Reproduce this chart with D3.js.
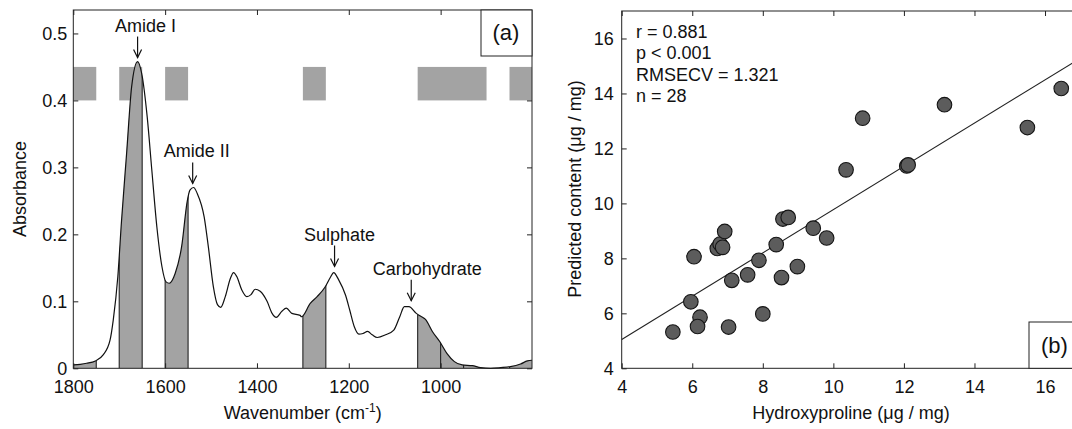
<!DOCTYPE html>
<html>
<head>
<meta charset="utf-8">
<script src="https://cdn.jsdelivr.net/npm/d3@7"></script>
<style>
  body { margin: 0; background: #fff; }
  svg { display: block; font-family: "Liberation Sans", Arial, sans-serif; }
  .frame { fill: none; stroke: #222; stroke-width: 1; }
  .spectrum { fill: none; stroke: #111; stroke-width: 1.2px; }
</style>
</head>
<body>
<svg id="chart" width="1072" height="429"></svg>
<script>
// ---- panel (a): FTIR spectrum ----
const wavenumber = [1800, 1785, 1771, 1752, 1735, 1720, 1713, 1703, 1695, 1684, 1673, 1660, 1651, 1639,
  1629, 1618, 1607, 1598, 1591, 1578, 1564, 1552, 1546, 1538, 1530, 1515, 1506, 1495, 1486, 1479,
  1469, 1458, 1451, 1444, 1433, 1422, 1413, 1404, 1393, 1378, 1367, 1358, 1346, 1336, 1324, 1306,
  1303, 1284, 1269, 1252, 1240, 1233, 1222, 1207, 1198, 1188, 1178, 1169, 1159, 1149, 1138, 1120,
  1102, 1089, 1079, 1069, 1053, 1044, 1033, 1018, 1002, 986, 970, 953, 931, 913, 891, 869, 848,
  826, 811, 801];
const absorbance = [0.005, 0.006, 0.0075, 0.011, 0.02, 0.042, 0.072, 0.137, 0.22, 0.32, 0.42, 0.458, 0.44, 0.375,
  0.296, 0.211, 0.152, 0.129, 0.127, 0.142, 0.182, 0.249, 0.266, 0.27, 0.261, 0.226, 0.182, 0.122, 0.095, 0.091,
  0.107, 0.134, 0.143, 0.137, 0.117, 0.107, 0.11, 0.118, 0.115, 0.1, 0.082, 0.076, 0.085, 0.09, 0.082, 0.079,
  0.077, 0.097, 0.107, 0.121, 0.136, 0.143, 0.132, 0.109, 0.087, 0.062, 0.051, 0.052, 0.055, 0.05, 0.046, 0.05,
  0.057, 0.077, 0.092, 0.092, 0.082, 0.078, 0.073, 0.055, 0.04, 0.022, 0.01, 0.005, 0.004, 0.001, 0.0, 0.001, 0.0025,
  0.0064, 0.011, 0.012];

// selected windows (shaded under the curve)
const windowStart = [1800, 1700, 1600, 1300, 1050, 1000, 950, 850];
const windowEnd = [1750, 1650, 1550, 1250, 1000, 950, 900, 800];
// grey bars at the top
const blockStart = [1800, 1700, 1600, 1300, 1050, 850];
const blockEnd = [1750, 1650, 1550, 1250, 900, 800];
const blockLow = 0.40, blockHigh = 0.45;

const annotations = [
  { text: "Amide I", wn: 1660, abs: 0.464, dx: 8 },
  { text: "Amide II", wn: 1540, abs: 0.276, dx: 4 },
  { text: "Sulphate", wn: 1231, abs: 0.152, dx: 5 },
  { text: "Carbohydrate", wn: 1064, abs: 0.101, dx: 16 }
];
const xTicksA = [1800, 1600, 1400, 1200, 1000];
const yTicksA = [0, 0.1, 0.2, 0.3, 0.4, 0.5];

// ---- panel (b): prediction vs reference ----
const hydroxyproline = [5.45, 5.96, 6.05, 6.22, 6.15, 6.71, 6.79, 6.86, 6.92, 7.03, 7.12, 7.57, 7.89, 8.0,
  8.38, 8.53, 8.57, 8.72, 8.98, 9.43, 9.81, 10.36, 10.83, 12.08, 12.12, 13.15, 15.5, 16.46];
const predicted = [5.32, 6.42, 8.06, 5.86, 5.52, 8.36, 8.52, 8.4, 8.98, 5.5, 7.2, 7.4, 7.93, 5.98,
  8.5, 7.3, 9.43, 9.49, 7.7, 9.1, 8.74, 11.22, 13.1, 11.36, 11.4, 13.59, 12.76, 14.18];
const fitX = [4, 17];
const fitY = [5.05, 15.28];
const stats = ["r = 0.881", "p < 0.001", "RMSECV = 1.321", "n = 28"];
const ticksB = [4, 6, 8, 10, 12, 14, 16];

const svg = d3.select("#chart");
const fontSize = 18;

function drawFrame(g, x, y, xTicks, yTicks, fmtX, fmtY, padY) {
  const [x0, x1] = x.range();
  const [y0, y1] = y.range();
  const bottom = g.append("g").attr("transform", `translate(0,${y0})`)
    .call(d3.axisBottom(x).tickValues(xTicks).tickSizeInner(-5).tickSizeOuter(0).tickPadding(11.5).tickFormat(fmtX));
  const top = g.append("g").attr("transform", `translate(0,${y1})`)
    .call(d3.axisTop(x).tickValues(xTicks).tickSizeInner(-5).tickSizeOuter(0).tickFormat(""));
  const left = g.append("g").attr("transform", `translate(${x0},0)`)
    .call(d3.axisLeft(y).tickValues(yTicks).tickSizeInner(-5).tickSizeOuter(0).tickPadding(padY).tickFormat(fmtY));
  const right = g.append("g").attr("transform", `translate(${x1},0)`)
    .call(d3.axisRight(y).tickValues(yTicks).tickSizeInner(-5).tickSizeOuter(0).tickFormat(""));
  [bottom, top, left, right].forEach(a => {
    a.select(".domain").remove();
    a.selectAll(".tick line").attr("stroke", "#222");
    a.selectAll("text").attr("font-size", fontSize).attr("font-family", "Liberation Sans, Arial, sans-serif").attr("fill", "#111");
  });
  g.append("rect").attr("class", "frame")
    .attr("x", x0).attr("y", y1).attr("width", x1 - x0).attr("height", y0 - y1);
}

// ===== panel (a) =====
const xA = d3.scaleLinear().domain([1800, 801]).range([73.3, 532]).clamp(true);
const yA = d3.scaleLinear().domain([0, 0.535]).range([368.3, 10]);
const spec = wavenumber.map((w, i) => ({ w: w, a: absorbance[i] }));

const gA = svg.append("g");
const defs = svg.append("defs");

defs.append("clipPath").attr("id", "winClip")
  .selectAll("rect").data(windowStart).join("rect")
  .attr("x", (d) => xA(d))
  .attr("width", (d, i) => xA(windowEnd[i]) - xA(d))
  .attr("y", 0).attr("height", 429);

const area = d3.area().curve(d3.curveMonotoneX)
  .x((d) => xA(d.w)).y0(yA(0)).y1((d) => yA(d.a));
const line = d3.line().curve(d3.curveMonotoneX)
  .x((d) => xA(d.w)).y((d) => yA(d.a));

defs.append("clipPath").attr("id", "areaClip")
  .append("path").attr("d", area(spec));

// grey bars at top
gA.selectAll(".block").data(blockStart).join("rect")
  .attr("class", "block")
  .attr("x", (d) => xA(d))
  .attr("width", (d, i) => xA(blockEnd[i]) - xA(d))
  .attr("y", yA(blockHigh))
  .attr("height", yA(blockLow) - yA(blockHigh))
  .attr("fill", "#a3a3a3");

// shaded windows under the spectrum
gA.append("path").attr("d", area(spec))
  .attr("fill", "#a3a3a3").attr("clip-path", "url(#winClip)");

const bounds = Array.from(new Set(windowStart.concat(windowEnd))).filter(d => d < 1800 && d > 801);
gA.selectAll(".bound").data(bounds).join("line")
  .attr("class", "bound")
  .attr("x1", (d) => xA(d)).attr("x2", (d) => xA(d))
  .attr("y1", yA(0)).attr("y2", yA(0.5))
  .attr("stroke", "#222").attr("stroke-width", 1.1)
  .attr("clip-path", "url(#areaClip)");

gA.append("path").datum(spec).attr("class", "spectrum").attr("d", line);

drawFrame(gA, xA, yA, xTicksA, yTicksA, d3.format("d"), d3.format(".1~f"), 6);
gA.selectAll("text").filter(function () { return this.textContent === "0.0"; }).text("0");

// annotations with arrows
annotations.forEach(a => {
  const ax = xA(a.wn), ay = yA(a.abs);
  gA.append("line").attr("x1", ax).attr("x2", ax).attr("y1", ay - 21).attr("y2", ay)
    .attr("stroke", "#111").attr("stroke-width", 1.2);
  gA.append("path").attr("d", `M${ax - 4},${ay - 8}L${ax},${ay}L${ax + 4},${ay - 8}`)
    .attr("fill", "none").attr("stroke", "#111").attr("stroke-width", 1.2);
  gA.append("text").attr("x", ax + a.dx).attr("y", ay - 26)
    .attr("text-anchor", "middle").attr("font-size", fontSize).attr("fill", "#111")
    .text(a.text);
});

// (a) label box
gA.append("rect").attr("x", 481).attr("y", 10).attr("width", 51).attr("height", 46)
  .attr("fill", "#fff").attr("stroke", "#222");
gA.append("text").attr("x", 506).attr("y", 40).attr("text-anchor", "middle")
  .attr("font-size", 22).attr("fill", "#111").text("(a)");

// axis titles
gA.append("text").attr("x", (73.3 + 532) / 2).attr("y", 419).attr("text-anchor", "middle")
  .attr("font-size", fontSize).attr("fill", "#111")
  .call(t => {
    t.append("tspan").text("Wavenumber (cm");
    t.append("tspan").attr("dy", -7).attr("font-size", 12).text("-1");
    t.append("tspan").attr("dy", 7).text(")");
  });
gA.append("text").attr("transform", "translate(26,189) rotate(-90)")
  .attr("text-anchor", "middle").attr("font-size", fontSize).attr("fill", "#111")
  .text("Absorbance");

// ===== panel (b) =====
const xB = d3.scaleLinear().domain([4, 17]).range([621.7, 1080.3]);
const yB = d3.scaleLinear().domain([4, 17]).range([368.3, 11]);
const gB = svg.append("g");

gB.append("line")
  .attr("x1", xB(fitX[0])).attr("y1", yB(fitY[0]))
  .attr("x2", xB(fitX[1])).attr("y2", yB(fitY[1]))
  .attr("stroke", "#222").attr("stroke-width", 1.1);

gB.selectAll(".pt").data(hydroxyproline).join("circle")
  .attr("class", "pt")
  .attr("cx", (d) => xB(d))
  .attr("cy", (d, i) => yB(predicted[i]))
  .attr("r", 7.3)
  .attr("fill", "#5c5c5c").attr("stroke", "#151515").attr("stroke-width", 1.1);

drawFrame(gB, xB, yB, ticksB, ticksB, d3.format("d"), d3.format("d"), 8);

gB.selectAll(".stat").data(stats).join("text")
  .attr("class", "stat")
  .attr("x", 636).attr("y", (d, i) => 37.8 + i * 21.5)
  .attr("font-size", fontSize).attr("fill", "#111")
  .text((d) => d);

gB.append("rect").attr("x", 1029).attr("y", 322).attr("width", 51).attr("height", 46.3)
  .attr("fill", "#fff").attr("stroke", "#222");
gB.append("text").attr("x", 1054.5).attr("y", 353).attr("text-anchor", "middle")
  .attr("font-size", 22).attr("fill", "#111").text("(b)");

gB.append("text").attr("x", (621.7 + 1080.3) / 2).attr("y", 419).attr("text-anchor", "middle")
  .attr("font-size", fontSize).attr("fill", "#111")
  .text("Hydroxyproline (\u03bcg / mg)");
gB.append("text").attr("transform", "translate(581,189) rotate(-90)")
  .attr("text-anchor", "middle").attr("font-size", fontSize).attr("fill", "#111")
  .text("Predicted content (\u03bcg / mg)");
</script>
</body>
</html>
